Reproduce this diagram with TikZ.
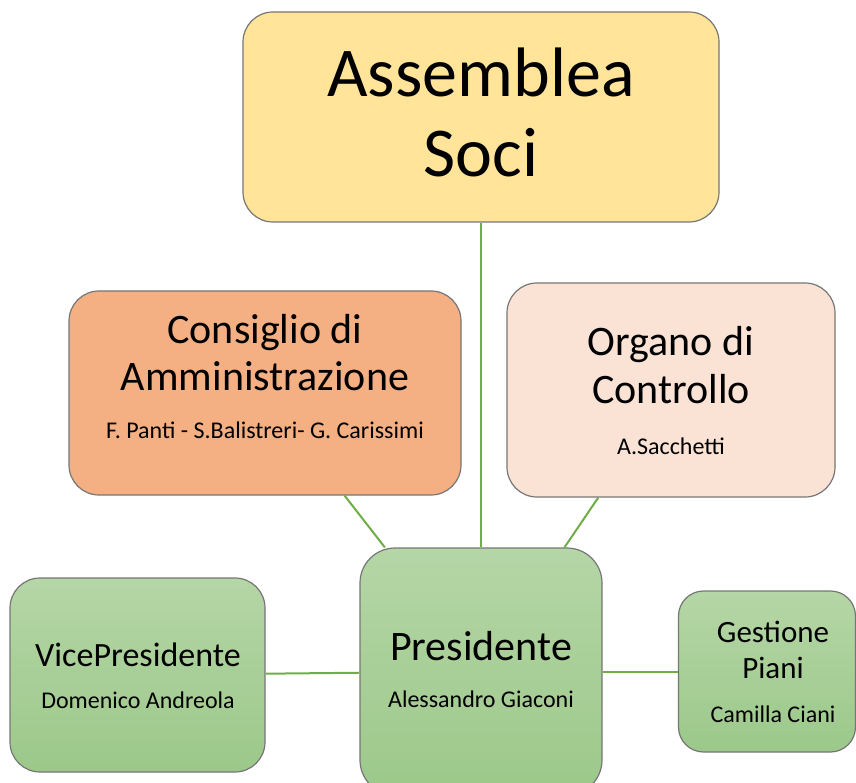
\documentclass[tikz,border=0pt]{standalone}
\usepackage{fontspec}
\setmainfont{Carlito}
\definecolor{boxline}{HTML}{767676}
\definecolor{linkgreen}{HTML}{70AD47}
\definecolor{assyellow}{HTML}{FFE499}
\definecolor{cdaorange}{HTML}{F4AF83}
\definecolor{ocpeach}{HTML}{FAE3D5}
\definecolor{greentop}{HTML}{B5D6A6}
\definecolor{greenbot}{HTML}{9CC88A}
\tikzset{
  box/.style={draw=boxline, line width=1.2pt, rounded corners=30pt, inner sep=0pt},
  greenbox/.style={box, top color=greentop, bottom color=greenbot},
  link/.style={draw=linkgreen, line width=2pt},
  txt/.style={anchor=base, inner sep=0pt, align=center},
}
\newcommand{\fsz}[2]{\fontsize{#1pt}{#2pt}\selectfont}
\begin{document}
\begin{tikzpicture}[x=1pt, y=-1pt]
\useasboundingbox (0,0) rectangle (856,783);
\node[box, fill=assyellow, minimum width=476pt, minimum height=210pt] (assemblea) at (481,117) {};
\node[box, fill=cdaorange, minimum width=392pt, minimum height=204pt] (cda) at (265,393) {};
\node[box, fill=ocpeach, minimum width=328pt, minimum height=214pt] (organo) at (671,390) {};
\node[greenbox, rounded corners=35pt, minimum width=242pt, minimum height=247pt] (pres) at (481,671.5) {};
\node[greenbox, minimum width=255pt, minimum height=194pt] (vice) at (137.5,675) {};
\node[greenbox, rounded corners=25pt, minimum width=177pt, minimum height=161pt] (piani) at (767,671.5) {};

\draw[link] (assemblea) -- (pres);
\draw[link] (cda) -- (pres);
\draw[link] (organo) -- (pres);
\draw[link] (vice) -- (pres);
\draw[link] (pres) -- (piani);

\node[txt, font=\fsz{70}{80}] (assemblea-t) at (481,177) {Assemblea\\Soci};
\node[txt, font=\fsz{42}{47}] (cda-t) at (265,390) {Consiglio di\\Amministrazione};
\node[txt, font=\fsz{24}{28}] (cda-n) at (265,438) {F. Panti - S.Balistreri- G. Carissimi};
\node[txt, font=\fsz{42}{48}] (organo-t) at (671,403) {Organo di\\Controllo};
\node[txt, font=\fsz{24}{28}] (organo-n) at (671,454) {A.Sacchetti};
\node[txt, font=\fsz{42}{48}] (pres-t) at (481,660) {Presidente};
\node[txt, font=\fsz{24}{28}] (pres-n) at (481,707) {Alessandro Giaconi};
\node[txt, font=\fsz{34}{40}] (vice-t) at (138,666) {VicePresidente};
\node[txt, font=\fsz{24}{28}] (vice-n) at (138,708) {Domenico Andreola};
\node[txt, font=\fsz{31}{36}] (piani-t) at (773,678) {Gestione\\Piani};
\node[txt, font=\fsz{24}{28}] (piani-n) at (773,722) {Camilla Ciani};
\end{tikzpicture}
\end{document}
